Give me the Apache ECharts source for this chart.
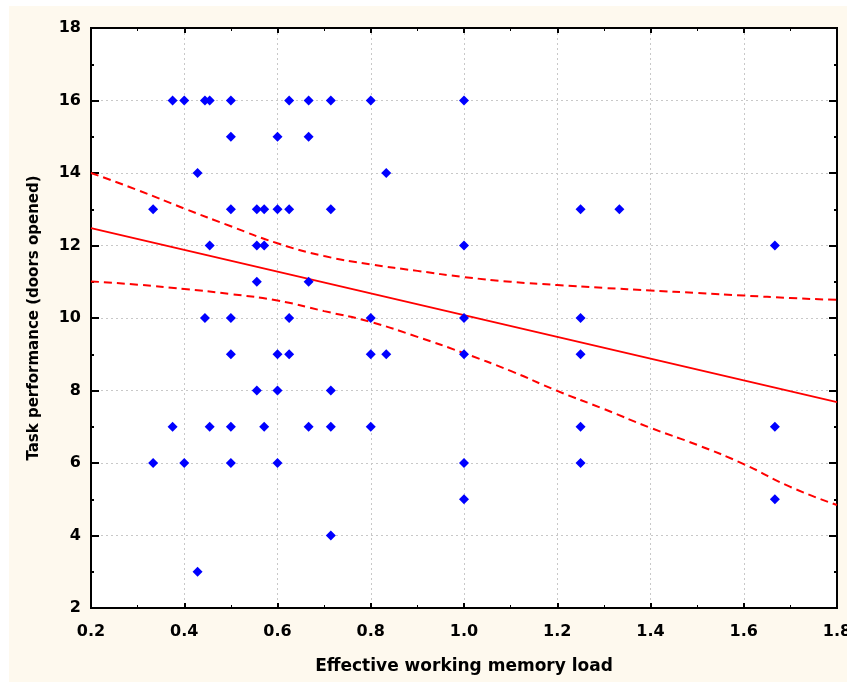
<!DOCTYPE html>
<html><head><meta charset="utf-8">
<script src="https://cdn.jsdelivr.net/npm/echarts@6/dist/echarts.min.js"></script>
<style>
html,body{margin:0;padding:0;background:#fff;}
#bg{position:absolute;left:9px;top:6px;width:838px;height:676px;background:#FEF9EE;}
#c{position:absolute;left:0;top:0;width:847px;height:682px;}
</style></head><body>
<div id="bg"></div><div id="c"></div>
<script>
// Effective working memory load (x) vs task performance (y)
const loadX = [
  0.375,0.4,0.4444,0.4545,0.5,0.625,0.6667,0.7143,0.8,1.0,
  0.5,0.6,0.6667,
  0.4286,0.8333,
  0.3333,0.5,0.5556,0.5714,0.6,0.625,0.7143,1.25,1.3333,
  0.4545,0.5556,0.5714,1.0,1.6667,
  0.5556,0.6667,
  0.4444,0.5,0.625,0.8,1.0,1.25,
  0.5,0.6,0.625,0.8,0.8333,1.0,1.25,
  0.5556,0.6,0.7143,
  0.375,0.4545,0.5,0.5714,0.6667,0.7143,0.8,1.25,1.6667,
  0.3333,0.4,0.5,0.6,1.0,1.25,
  1.0,1.6667,
  0.7143,
  0.4286
];
const doors = [
  16,16,16,16,16,16,16,16,16,16,
  15,15,15,
  14,14,
  13,13,13,13,13,13,13,13,13,
  12,12,12,12,12,
  11,11,
  10,10,10,10,10,10,
  9,9,9,9,9,9,9,
  8,8,8,
  7,7,7,7,7,7,7,7,7,
  6,6,6,6,6,6,
  5,5,
  4,
  3
];
// fitted regression line
const fitX = [0.2, 1.8];
const fitY = [12.48, 7.68];
// 95% confidence band
const bandX = [0.2,0.3,0.4,0.5,0.6,0.7,0.8,0.9,1.0,1.1,1.2,1.3,1.4,1.5,1.6,1.7,1.8];
const bandUpper = [14.0,13.53,13.02,12.53,12.06,11.71,11.48,11.30,11.13,11.0,10.91,10.83,10.76,10.69,10.62,10.55,10.50];
const bandLower = [11.01,10.92,10.80,10.66,10.48,10.19,9.89,9.48,9.03,8.54,7.99,7.49,6.97,6.50,5.97,5.34,4.84];
const xTicks = {min:0.2, max:1.8, interval:0.2};
const yTicks = {min:2, max:18, interval:2};

const zip = (a,b)=>a.map((v,i)=>[v,b[i]]);
const chart = echarts.init(document.getElementById('c'));
const font = '"DejaVu Sans", Arial, sans-serif';
const lbl = {color:'#000', fontWeight:'bold', fontFamily:font, fontSize:16};
const grid = {show:true, left:91, right:10, top:28, bottom:74, backgroundColor:'#fff', borderColor:'#000', borderWidth:2, outerBoundsMode:'none', containLabel:false};
const split = {show:true, lineStyle:{color:'#c8c8c8', type:[2,3], width:1}};
function xa(pos, main){
  return {type:'value', position:pos, min:xTicks.min, max:xTicks.max, interval:xTicks.interval,
    axisLine:{show:true, onZero:false, lineStyle:{color:'#000', width:2}},
    axisTick:{show:true, inside:true, length:5, lineStyle:{color:'#000', width:2}},
    minorTick:{show:true, splitNumber:2, length:3, lineStyle:{color:'#000', width:1}},
    splitLine: main ? split : {show:false},
    axisLabel: main ? Object.assign({}, lbl, {margin:16, formatter:v=>v.toFixed(1), hideOverlap:false}) : {show:false},
    name: main ? 'Effective working memory load' : '',
    nameLocation:'middle', nameGap:50,
    nameTextStyle: Object.assign({}, lbl, {fontSize:17})
  };
}
function ya(pos, main){
  return {type:'value', position:pos, min:yTicks.min, max:yTicks.max, interval:yTicks.interval,
    axisLine:{show:true, onZero:false, lineStyle:{color:'#000', width:2}},
    axisTick:{show:true, inside:true, length:8, lineStyle:{color:'#000', width:2}},
    minorTick:{show:true, splitNumber:2, length:3, lineStyle:{color:'#000', width:2}},
    splitLine: main ? split : {show:false},
    axisLabel: main ? Object.assign({}, lbl, {margin:10}) : {show:false},
    name: main ? 'Task performance (doors opened)' : '',
    nameLocation:'middle', nameGap:49, nameRotate:90,
    nameTextStyle: Object.assign({}, lbl, {fontSize:15})
  };
}
chart.setOption({
  backgroundColor:'transparent',
  animation:false,
  grid: grid,
  xAxis:[xa('bottom', true), xa('top', false)],
  yAxis:[ya('left', true), ya('right', false)],
  series:[
    {type:'line', data:zip(bandX, bandUpper), showSymbol:false, smooth:true, lineStyle:{color:'#ff0000', width:2, type:[8,5]}, z:2},
    {type:'line', data:zip(bandX, bandLower), showSymbol:false, smooth:true, lineStyle:{color:'#ff0000', width:2, type:[8,5]}, z:2},
    {type:'line', data:zip(fitX, fitY), showSymbol:false, lineStyle:{color:'#ff0000', width:2}, z:2},
    {type:'scatter', data:zip(loadX, doors), symbol:'diamond', symbolSize:10, itemStyle:{color:'#0000ff', opacity:1}, z:3}
  ]
});
</script></body></html>
